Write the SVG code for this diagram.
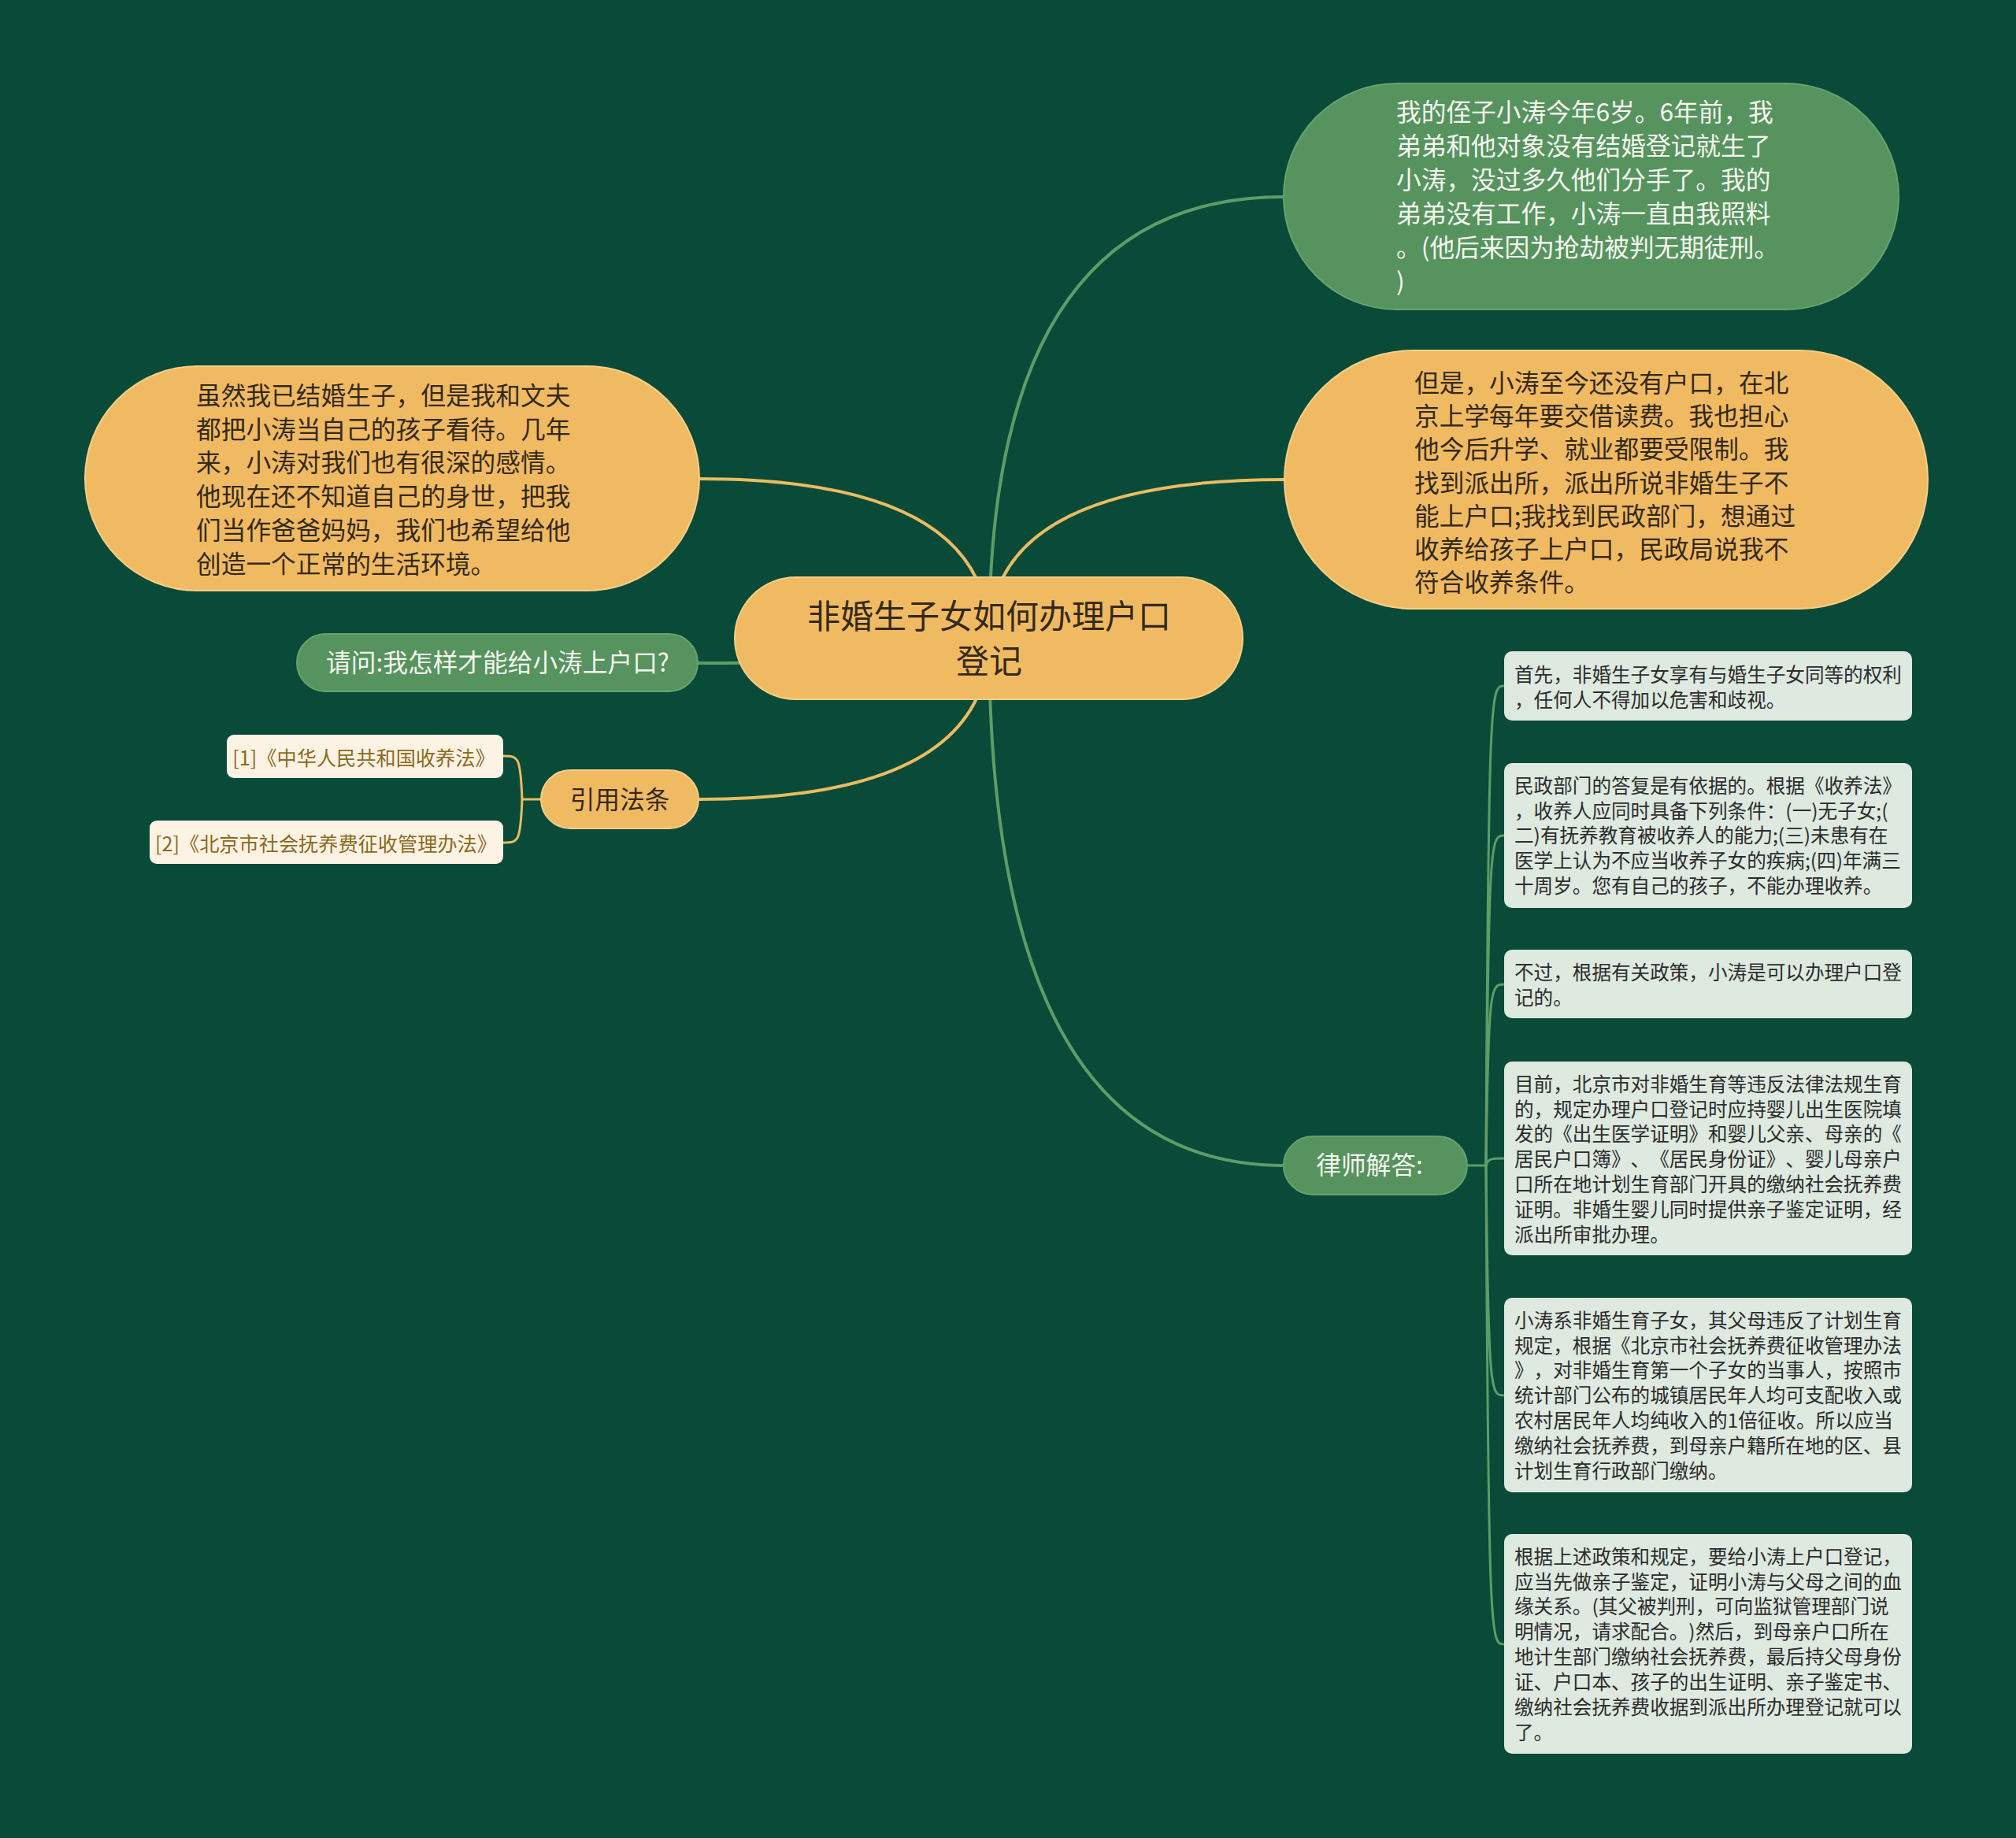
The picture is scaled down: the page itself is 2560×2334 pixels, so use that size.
<svg xmlns="http://www.w3.org/2000/svg" width="2560" height="2334" viewBox="0 0 2560 2334">
<style>
text{font-family:"Noto Sans CJK SC","Noto Sans",sans-serif;text-spacing-trim:space-all;}
.bg{fill:#0A4A38;}
.orange{fill:#F0BA63;stroke:#F6CF85;stroke-width:2;}
.green{fill:#56935F;stroke:#66A36E;stroke-width:2;}
.box{fill:#DEE9E0;}
.ref{fill:#FDF3E4;}
.t-big{font-size:31.7px;fill:#33291A;}
.t-white{font-size:31.7px;fill:#F7F7F0;}
.t-box{font-size:24.6px;fill:#2C2C2C;}
.t-ref{font-size:25.2px;fill:#8C6A1E;text-anchor:middle;}
.gold{fill:none;stroke:#E9BC62;stroke-width:4;}
.gline{fill:none;stroke:#5E9C68;stroke-width:4;}
.gsub{fill:none;stroke:#5E9C68;stroke-width:3;}
.osub{fill:none;stroke:#E9BC62;stroke-width:3;}
</style>
<rect class="bg" x="0" y="0" width="2560" height="2334"/>
<g id="connectors">
<path class="gline" d="M1256 811 Q1256 250 1630 250"/>
<path class="gold" d="M1256 811 Q1256 609 1631 609"/>
<path class="gold" d="M1256 811 Q1256 608 888 608"/>
<path class="gline" d="M1256 811 Q1256 842 886 842"/>
<path class="gold" d="M1256 811 Q1256 1015 887 1015"/>
<path class="gline" d="M1256 811 Q1256 1480 1630 1480"/>
<path class="osub" d="M687 1015 L663 1015"/>
<path class="osub" d="M663 1015 C661 960 658 960 639 960"/>
<path class="osub" d="M663 1015 C661 1070 658 1070 639 1070"/>
<path class="gsub" d="M1863 1480 L1887 1480"/>
<path class="gsub" d="M1887 1480 C1890 871 1893 871 1910 871"/>
<path class="gsub" d="M1887 1480 C1890 1061 1893 1061 1910 1061"/>
<path class="gsub" d="M1887 1480 C1890 1250 1893 1250 1910 1250"/>
<path class="gsub" d="M1887 1480 C1890 1471 1893 1471 1910 1471"/>
<path class="gsub" d="M1887 1480 C1890 1772 1893 1772 1910 1772"/>
<path class="gsub" d="M1887 1480 C1890 2088 1893 2088 1910 2088"/>
</g>
<g id="central">
<rect class="orange" x="933" y="733" width="645" height="155" rx="77.5"/>
<text x="1256" y="797.7" font-size="42" fill="#33291A" text-anchor="middle">非婚生子女如何办理户口</text>
<text x="1256" y="855" font-size="42" fill="#33291A" text-anchor="middle">登记</text>
</g>
<g id="story1">
<rect class="green" x="1630" y="106" width="781" height="287" rx="143.5"/>
<text class="t-white" x="1773" y="154">我的侄子小涛今年6岁。6年前，我</text>
<text class="t-white" x="1773" y="197">弟弟和他对象没有结婚登记就生了</text>
<text class="t-white" x="1773" y="240">小涛，没过多久他们分手了。我的</text>
<text class="t-white" x="1773" y="283">弟弟没有工作，小涛一直由我照料</text>
<text class="t-white" x="1773" y="326">。(他后来因为抢劫被判无期徒刑。</text>
<text class="t-white" x="1773" y="369">)</text>
</g>
<g id="story2">
<rect class="orange" x="1631" y="445" width="817" height="328" rx="164"/>
<text class="t-big" x="1796" y="498">但是，小涛至今还没有户口，在北</text>
<text class="t-big" x="1796" y="540.2">京上学每年要交借读费。我也担心</text>
<text class="t-big" x="1796" y="582.4">他今后升学、就业都要受限制。我</text>
<text class="t-big" x="1796" y="624.6">找到派出所，派出所说非婚生子不</text>
<text class="t-big" x="1796" y="666.8">能上户口;我找到民政部门，想通过</text>
<text class="t-big" x="1796" y="709">收养给孩子上户口，民政局说我不</text>
<text class="t-big" x="1796" y="751.2">符合收养条件。</text>
</g>
<g id="story3">
<rect class="orange" x="108" y="465" width="780" height="285" rx="142.5"/>
<text class="t-big" x="249" y="514">虽然我已结婚生子，但是我和文夫</text>
<text class="t-big" x="249" y="556.7">都把小涛当自己的孩子看待。几年</text>
<text class="t-big" x="249" y="599.4">来，小涛对我们也有很深的感情。</text>
<text class="t-big" x="249" y="642.1">他现在还不知道自己的身世，把我</text>
<text class="t-big" x="249" y="684.8">们当作爸爸妈妈，我们也希望给他</text>
<text class="t-big" x="249" y="727.5">创造一个正常的生活环境。</text>
</g>
<g id="question">
<rect class="green" x="377" y="805" width="509" height="73" rx="36.5"/>
<text x="632" y="853" font-size="31.7" fill="#F7F7F0" text-anchor="middle">请问:我怎样才能给小涛上户口?</text>
</g>
<g id="laws">
<rect class="orange" x="687" y="978" width="200" height="74" rx="37"/>
<text class="t-big" x="787" y="1027" text-anchor="middle">引用法条</text>
</g>
<g id="law1">
<rect class="ref" x="288" y="933" width="351" height="55" rx="9"/>
<text class="t-ref" x="462" y="972">[1]《中华人民共和国收养法》</text>
</g>
<g id="law2">
<rect class="ref" x="190" y="1042" width="449" height="55" rx="9"/>
<text class="t-ref" x="414" y="1081">[2]《北京市社会抚养费征收管理办法》</text>
</g>
<g id="lawyer">
<rect class="green" x="1630" y="1443" width="233" height="74" rx="37"/>
<text class="t-white" x="1739" y="1491" text-anchor="middle">律师解答:</text>
</g>
<g id="a1">
<rect class="box" x="1910" y="827" width="518" height="88" rx="10"/>
<text class="t-box" x="1923" y="865.6">首先，非婚生子女享有与婚生子女同等的权利</text>
<text class="t-box" x="1923" y="897.5">，任何人不得加以危害和歧视。</text>
</g>
<g id="a2">
<rect class="box" x="1910" y="969" width="518" height="184" rx="10"/>
<text class="t-box" x="1923" y="1006.6">民政部门的答复是有依据的。根据《收养法》</text>
<text class="t-box" x="1923" y="1038.5">，收养人应同时具备下列条件：(一)无子女;(</text>
<text class="t-box" x="1923" y="1070.4">二)有抚养教育被收养人的能力;(三)未患有在</text>
<text class="t-box" x="1923" y="1102.3">医学上认为不应当收养子女的疾病;(四)年满三</text>
<text class="t-box" x="1923" y="1134.2">十周岁。您有自己的孩子，不能办理收养。</text>
</g>
<g id="a3">
<rect class="box" x="1910" y="1206" width="518" height="87" rx="10"/>
<text class="t-box" x="1923" y="1243.6">不过，根据有关政策，小涛是可以办理户口登</text>
<text class="t-box" x="1923" y="1275.5">记的。</text>
</g>
<g id="a4">
<rect class="box" x="1910" y="1348" width="518" height="246" rx="10"/>
<text class="t-box" x="1923" y="1385.6">目前，北京市对非婚生育等违反法律法规生育</text>
<text class="t-box" x="1923" y="1417.5">的，规定办理户口登记时应持婴儿出生医院填</text>
<text class="t-box" x="1923" y="1449.4">发的《出生医学证明》和婴儿父亲、母亲的《</text>
<text class="t-box" x="1923" y="1481.3">居民户口簿》、《居民身份证》、婴儿母亲户</text>
<text class="t-box" x="1923" y="1513.2">口所在地计划生育部门开具的缴纳社会抚养费</text>
<text class="t-box" x="1923" y="1545.1">证明。非婚生婴儿同时提供亲子鉴定证明，经</text>
<text class="t-box" x="1923" y="1577">派出所审批办理。</text>
</g>
<g id="a5">
<rect class="box" x="1910" y="1648" width="518" height="247" rx="10"/>
<text class="t-box" x="1923" y="1685.6">小涛系非婚生育子女，其父母违反了计划生育</text>
<text class="t-box" x="1923" y="1717.5">规定，根据《北京市社会抚养费征收管理办法</text>
<text class="t-box" x="1923" y="1749.4">》，对非婚生育第一个子女的当事人，按照市</text>
<text class="t-box" x="1923" y="1781.3">统计部门公布的城镇居民年人均可支配收入或</text>
<text class="t-box" x="1923" y="1813.2">农村居民年人均纯收入的1倍征收。所以应当</text>
<text class="t-box" x="1923" y="1845.1">缴纳社会抚养费，到母亲户籍所在地的区、县</text>
<text class="t-box" x="1923" y="1877">计划生育行政部门缴纳。</text>
</g>
<g id="a6">
<rect class="box" x="1910" y="1948" width="518" height="279" rx="10"/>
<text class="t-box" x="1923" y="1985.6">根据上述政策和规定，要给小涛上户口登记，</text>
<text class="t-box" x="1923" y="2017.5">应当先做亲子鉴定，证明小涛与父母之间的血</text>
<text class="t-box" x="1923" y="2049.4">缘关系。(其父被判刑，可向监狱管理部门说</text>
<text class="t-box" x="1923" y="2081.3">明情况，请求配合。)然后，到母亲户口所在</text>
<text class="t-box" x="1923" y="2113.2">地计生部门缴纳社会抚养费，最后持父母身份</text>
<text class="t-box" x="1923" y="2145.1">证、户口本、孩子的出生证明、亲子鉴定书、</text>
<text class="t-box" x="1923" y="2177">缴纳社会抚养费收据到派出所办理登记就可以</text>
<text class="t-box" x="1923" y="2208.9">了。</text>
</g>
</svg>
